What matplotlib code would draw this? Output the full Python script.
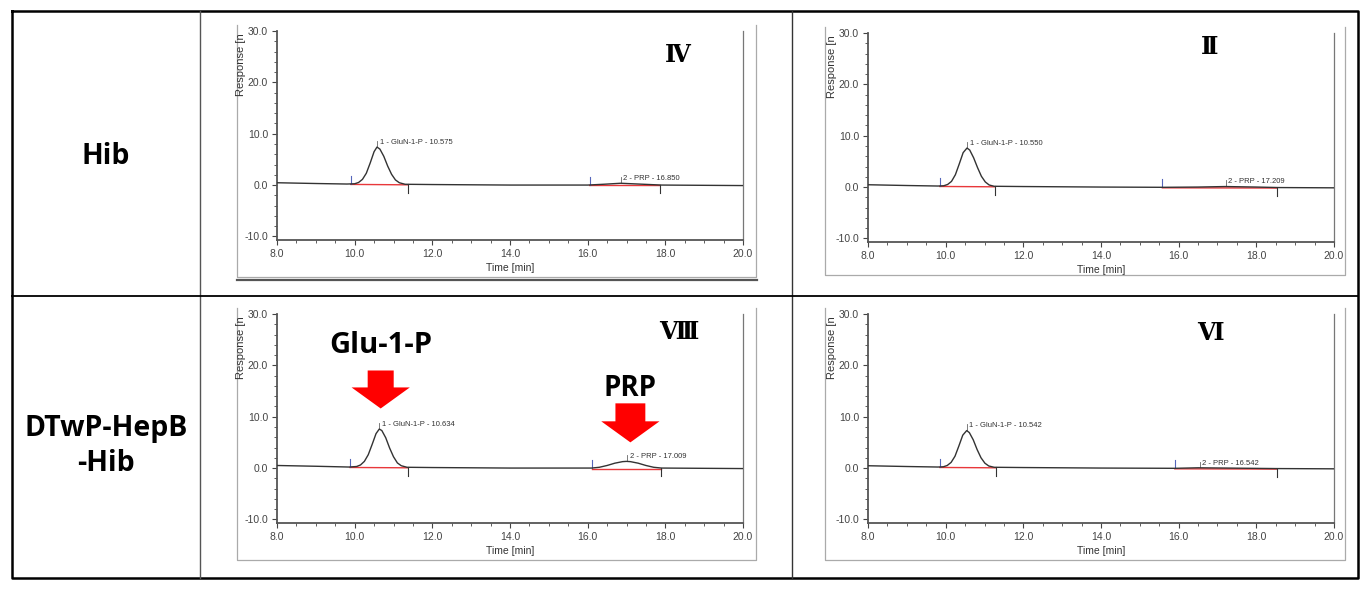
import numpy as np
import matplotlib
matplotlib.use("Agg")
import matplotlib.pyplot as plt
from matplotlib.patches import FancyArrow
from matplotlib.ticker import MultipleLocator, FormatStrFormatter

# 행 라벨 / 패널 번호
row_labels = ["Hib", "DTwP-HepB\n-Hib"]
panel_numerals = ["Ⅳ", "Ⅱ", "Ⅷ", "Ⅵ"]
peak_names = ["GluN-1-P", "PRP"]

# 크로마토그램 (Time [min], Response) - 그림에서 읽은 값
time_iv = [8.0, 9.0, 9.8, 10.0, 10.1, 10.2, 10.3, 10.4, 10.5, 10.575, 10.65, 10.75,
           10.85, 10.95, 11.05, 11.15, 11.3, 12.0, 14.0, 16.0, 16.4, 16.85, 17.3, 17.9, 20.0]
resp_iv = [0.45, 0.3, 0.2, 0.25, 0.5, 1.1, 2.3, 4.3, 6.5, 7.4, 7.0, 5.6,
           3.7, 2.1, 1.0, 0.45, 0.15, 0.1, 0.0, 0.0, 0.15, 0.35, 0.2, 0.0, -0.1]

time_ii = [8.0, 9.0, 9.8, 9.95, 10.05, 10.15, 10.25, 10.35, 10.45, 10.55, 10.62, 10.72,
           10.82, 10.92, 11.02, 11.12, 11.25, 12.0, 14.0, 15.6, 16.5, 17.2, 18.0, 18.6, 20.0]
resp_ii = [0.45, 0.3, 0.2, 0.25, 0.5, 1.1, 2.4, 4.5, 6.7, 7.6, 7.2, 5.7,
           3.8, 2.1, 1.0, 0.4, 0.15, 0.1, 0.0, -0.05, 0.0, 0.1, 0.0, -0.1, -0.15]

time_viii = [8.0, 9.0, 9.85, 10.05, 10.15, 10.25, 10.35, 10.45, 10.55, 10.634, 10.7, 10.8,
             10.9, 11.0, 11.1, 11.2, 11.35, 12.0, 14.0, 16.1, 16.3, 16.5, 16.7, 16.9,
             17.0, 17.1, 17.3, 17.5, 17.7, 17.9, 20.0]
resp_viii = [0.5, 0.35, 0.2, 0.3, 0.6, 1.3, 2.6, 4.6, 6.7, 7.6, 7.3, 5.9,
             3.9, 2.2, 1.0, 0.45, 0.15, 0.1, 0.0, 0.0, 0.15, 0.5, 0.95, 1.25,
             1.3, 1.25, 0.95, 0.5, 0.15, 0.0, -0.1]

time_vi = [8.0, 9.0, 9.8, 9.94, 10.04, 10.14, 10.24, 10.34, 10.44, 10.542, 10.61, 10.71,
           10.81, 10.91, 11.01, 11.11, 11.25, 12.0, 14.0, 15.9, 16.5, 17.2, 18.5, 20.0]
resp_vi = [0.45, 0.3, 0.2, 0.25, 0.5, 1.1, 2.3, 4.3, 6.4, 7.3, 6.9, 5.5,
           3.6, 2.0, 0.95, 0.4, 0.15, 0.1, 0.0, -0.05, 0.05, 0.0, -0.1, -0.15]

# 피크 정보: 머무름 시간, 적분 시작/끝
rt_iv, start_iv, end_iv = [10.575, 16.850], [9.9, 16.05], [11.37, 17.87]
rt_ii, start_ii, end_ii = [10.550, 17.209], [9.85, 15.58], [11.27, 18.54]
rt_viii, start_viii, end_viii = [10.634, 17.009], [9.88, 16.1], [11.37, 17.9]
rt_vi, start_vi, end_vi = [10.542, 16.542], [9.85, 15.9], [11.3, 18.53]

# 강조 화살표 (Ⅷ 패널)
arrow_labels = ["Glu-1-P", "PRP"]
arrow_x = [10.67, 17.1]
arrow_top = [19.0, 12.6]
arrow_tip = [11.6, 5.0]
arrow_width = [0.67, 0.77]

W, H = 1370, 590
fig = plt.figure(figsize=(13.7, 5.9), dpi=100)

# 표 테두리 (픽셀 좌표)
bg = fig.add_axes([0, 0, 1, 1])
bg.set_xlim(0, W)
bg.set_ylim(H, 0)
bg.axis("off")
bg.plot([12, 1358, 1358, 12, 12], [11, 11, 578, 578, 11], color="black", lw=1.8)
bg.plot([200, 200], [11, 578], color="#555555", lw=1.0)
bg.plot([792, 792], [11, 578], color="#333333", lw=1.0)
bg.plot([12, 1358], [296, 296], color="black", lw=1.3)

frames = [(237, 25, 756, 277), (825, 27, 1345, 275), (237, 308, 756, 560), (825, 308, 1345, 560)]
for l, t, r, b in frames:
    bg.plot([l, l, r, r], [t, b, b, t], color="#aaaaaa", lw=0.9)
bg.plot([237, 757], [279.5, 279.5], color="#555555", lw=1.6)

fam = ["Open Sans", "DejaVu Sans"]
bg.text(106, 157, row_labels[0], ha="center", va="center", fontsize=20.5,
        fontweight="bold", family=fam)
bg.text(106, 446, row_labels[1], ha="center", va="center", fontsize=20.5,
        fontweight="bold", family=fam, linespacing=1.3)

panels = [
    (time_iv, resp_iv, rt_iv, start_iv, end_iv, (277, 31)),
    (time_ii, resp_ii, rt_ii, start_ii, end_ii, (868, 33)),
    (time_viii, resp_viii, rt_viii, start_viii, end_viii, (277, 314)),
    (time_vi, resp_vi, rt_vi, start_vi, end_vi, (868, 314)),
]
numeral_pos = [(678, 55), (1210, 47), (679, 332), (1210, 333)]

axes = []
for k, (t, r, rts, st, en, (px, py)) in enumerate(panels):
    aw, ah = 466, 209
    ax = fig.add_axes([px / W, 1 - (py + ah) / H, aw / W, ah / H])
    ax.patch.set_alpha(0)
    ax.set_xlim(8, 20)
    ax.set_ylim(-10.7, 30)

    ax.plot(t, r, color="#333333", lw=1.0, zorder=3)
    for i, (rt, s, e) in enumerate(zip(rts, st, en)):
        ys = np.interp(s, t, r)
        ye = np.interp(e, t, r)
        ya = np.interp(rt, t, r)
        ax.plot([s, e], [ys - 0.1, ye - 0.1], color="#e8383b", lw=1.0, zorder=2)
        ax.plot([s, s], [ys, ys + 1.6], color="#5566bb", lw=0.8)
        ax.plot([e, e], [ye, ye - 1.6], color="#333333", lw=0.8)
        ax.plot([rt, rt], [ya + 0.2, ya + 1.2], color="#666666", lw=0.6)
        ax.text(rt + 0.07, ya + 0.25, f"{i + 1} - {peak_names[i]} - {rt:.3f}",
                fontsize=5.5, color="#333333", ha="left", va="bottom",
                family="Liberation Sans")

    ax.spines["top"].set_visible(False)
    ax.spines["left"].set_color("#555555")
    ax.spines["left"].set_linewidth(1.3)
    ax.spines["bottom"].set_color("#555555")
    ax.spines["bottom"].set_linewidth(1.3)
    ax.spines["right"].set_color("#777777")
    ax.spines["right"].set_linewidth(0.9)

    ax.xaxis.set_major_locator(MultipleLocator(2))
    ax.xaxis.set_minor_locator(MultipleLocator(0.5))
    ax.yaxis.set_major_locator(MultipleLocator(10))
    ax.yaxis.set_minor_locator(MultipleLocator(2))
    ax.xaxis.set_major_formatter(FormatStrFormatter("%.1f"))
    ax.yaxis.set_major_formatter(FormatStrFormatter("%.1f"))
    ax.set_yticks([-10, 0, 10, 20, 30])
    ax.tick_params(which="both", direction="out", colors="#444444", labelsize=7.5,
                   right=False, top=False)
    ax.tick_params(which="major", length=3.5, width=0.8, pad=3)
    ax.tick_params(which="minor", length=2, width=0.6)
    for lbl in ax.get_xticklabels() + ax.get_yticklabels():
        lbl.set_family("Liberation Sans")

    ax.text(0.5, -0.135, "Time [min]", transform=ax.transAxes, ha="center", va="center",
            fontsize=7.5, color="#333333", family="Liberation Sans")
    ax.text(-0.077, 0.99, "Response [n", transform=ax.transAxes, ha="center", va="top",
            rotation=90, fontsize=8, color="#333333", family="Liberation Sans")
    axes.append(ax)

for (nx, ny), num in zip(numeral_pos, panel_numerals):
    bg.text(nx, ny, num, ha="center", va="center", fontsize=17, fontweight="bold",
            family=["DejaVu Serif", "Noto Sans CJK KR", "DejaVu Sans"])

# Ⅷ 패널 화살표와 라벨
ax8 = axes[2]
for lab, x, top, tip, w in zip(arrow_labels, arrow_x, arrow_top, arrow_tip, arrow_width):
    ax8.add_patch(FancyArrow(x, top, 0, tip - top, width=w, head_width=1.5,
                             head_length=4.1, length_includes_head=True,
                             color="#ff0000", lw=0, zorder=4))
ax8.text(arrow_x[0], 23.8, arrow_labels[0], ha="center", va="center", fontsize=21,
         fontweight="bold", family=fam)
ax8.text(arrow_x[1], 15.5, arrow_labels[1], ha="center", va="center", fontsize=20,
         fontweight="bold", family=fam)

fig.savefig("out.png", dpi=100)
